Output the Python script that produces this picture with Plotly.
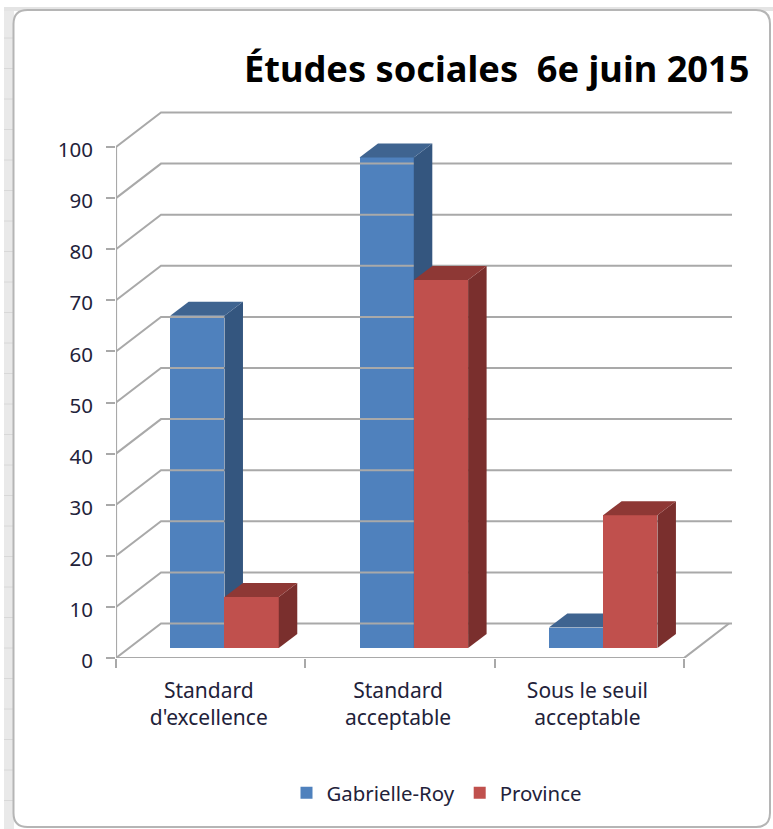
import plotly.graph_objects as go

# ---- data ----
categories = ["Standard<br>d'excellence", "Standard<br>acceptable", "Sous le seuil<br>acceptable"]
gabrielle_roy = [65, 96, 4]
province = [10, 72, 26]
y_ticks = list(range(0, 101, 10))
title_text = "Études sociales\u00a0\u00a06e juin 2015"

# ---- pixel geometry of the pseudo-3D chart ----
W, H = 773, 829
L, R, T, B = 116, 736, 108, 658
PX_X = 189.33            # pixels per category
PX_Y = 5.11              # pixels per value unit
XMAX = (R - L) / PX_X
YMAX = (B - T) / PX_Y
WALL_DX = 45 / PX_X      # depth of the walls
WALL_DY = 34.5 / PX_Y
WALL_END = (732 - L) / PX_X
BAR_DX = 18.5 / PX_X     # depth of the bars
BAR_DY = 14 / PX_Y
SHIFT_X = 13.8 / PX_X    # bars stand inside the floor
SHIFT_Y = 10 / PX_Y
BAR_W = 54.3 / PX_X
N = len(categories)

GRID = "#a9a9a9"
TXT = "#22223a"
FONT = "Noto Sans"

fig = go.Figure()

# walls and floor, on the base axes
def line(xs, ys, width=2, color=GRID):
    fig.add_trace(go.Scatter(x=xs, y=ys, mode="lines", showlegend=False, hoverinfo="skip",
                             line=dict(color=color, width=width), xaxis="x", yaxis="y", cliponaxis=False))

for v in y_ticks:
    line([0, WALL_DX, WALL_END], [v, v + WALL_DY, v + WALL_DY])
line([0, 0], [0, 100], 2.2)
line([0, N, N + WALL_DX], [0, 0, WALL_DY], 2.2)


def faces(vals, offs, side, top, xa, ya):
    for i, (v, o) in enumerate(zip(vals, offs)):
        x0 = i + 0.5 + SHIFT_X + o
        x1 = x0 + BAR_W
        b = SHIFT_Y
        h = b + v
        fig.add_trace(go.Scatter(x=[x1, x1 + BAR_DX, x1 + BAR_DX, x1, x1],
                                 y=[b, b + BAR_DY, h + BAR_DY, h, b],
                                 mode="lines", fill="toself", fillcolor=side, line=dict(width=0, color=side),
                                 showlegend=False, hoverinfo="skip", xaxis=xa, yaxis=ya))
        fig.add_trace(go.Scatter(x=[x0, x1, x1 + BAR_DX, x0 + BAR_DX, x0],
                                 y=[h, h, h + BAR_DY, h + BAR_DY, h],
                                 mode="lines", fill="toself", fillcolor=top, line=dict(width=0, color=top),
                                 showlegend=False, hoverinfo="skip", xaxis=xa, yaxis=ya))


def front(vals, off, name, color, xa, ya):
    fig.add_trace(go.Bar(x=[i + 0.5 + SHIFT_X + off for i in range(N)], y=vals,
                         base=[SHIFT_Y] * N, width=BAR_W, offset=0, name=name,
                         marker=dict(color=color, line=dict(width=0)), xaxis=xa, yaxis=ya))


# Gabrielle-Roy on the base axes
faces(gabrielle_roy, [-BAR_W] * N, "#34567f", "#3f6490", "x", "y")
front(gabrielle_roy, -BAR_W, "Gabrielle-Roy", "#4f81bd", "x", "y")
# Province on the overlaying axes so it hides the blue side faces
faces(province, [0] * N, "#7a2f2d", "#8e3835", "x2", "y2")
front(province, 0, "Province", "#c0504d", "x2", "y2")

# frame of the chart area (paper coordinates from pixels)
pw, ph = R - L, B - T
def px(x): return (x - L) / pw
def py(y): return 1 - (y - T) / ph

x0, x1, y0, y1 = px(13.5), px(770), py(10), py(827)
rx, ry = 14 / pw, 14 / ph
frame = (f"M {x0+rx} {y0} L {x1-rx} {y0} Q {x1} {y0} {x1} {y0-ry} L {x1} {y1+ry} Q {x1} {y1} {x1-rx} {y1} "
         f"L {x0+rx} {y1} Q {x0} {y1} {x0} {y1+ry} L {x0} {y0-ry} Q {x0} {y0} {x0+rx} {y0} Z")

# spreadsheet behind the chart: strip at the left, band at the top, faint row lines
shapes = [
    dict(type="rect", xref="paper", yref="paper", x0=px(4), x1=px(14), y0=py(829), y1=py(8),
         fillcolor="#e9e9e9", line=dict(width=0), layer="below"),
    dict(type="rect", xref="paper", yref="paper", x0=px(4), x1=px(773), y0=py(11), y1=py(7),
         fillcolor="#e4e4e4", line=dict(width=0), layer="below"),
]
for k in range(26):
    yy = 38 + 30.5 * k
    shapes.append(dict(type="line", xref="paper", yref="paper", x0=px(4), x1=px(13), y0=py(yy), y1=py(yy),
                       line=dict(color="#d8d8d8", width=1), layer="below"))
shapes.append(dict(type="path", path=frame, xref="paper", yref="paper", layer="below",
                   fillcolor="#ffffff", line=dict(color="#b5b5b5", width=2)))

fig.update_layout(
    width=W, height=H, autosize=False,
    margin=dict(l=L, r=W - R, t=T, b=H - B, pad=0),
    paper_bgcolor="#ffffff", plot_bgcolor="rgba(0,0,0,0)",
    font=dict(family=FONT, size=20, color=TXT),
    barmode="overlay", bargap=0,
    showlegend=True,
    legend=dict(orientation="h", x=px(437), xanchor="center", y=py(793), yanchor="middle",
                font=dict(size=20.4, color=TXT), bgcolor="rgba(0,0,0,0)", itemwidth=30, traceorder="normal"),
    xaxis=dict(range=[0, XMAX], showgrid=False, zeroline=False, showline=False,
               tickmode="array", tickvals=[i + 0.49 for i in range(N)], ticktext=categories,
               ticks="", ticklabelstandoff=18, tickfont=dict(size=21, color=TXT),
               minor=dict(tickmode="array", tickvals=list(range(N + 1)), ticks="outside", ticklen=9,
                          tickwidth=2, tickcolor=GRID, showgrid=False),
               fixedrange=True),
    yaxis=dict(range=[0, YMAX], showgrid=False, zeroline=False, showline=False,
               tickmode="array", tickvals=y_ticks, ticks="outside", ticklen=9, tickwidth=2, tickcolor=GRID,
               tickfont=dict(size=20.5, color=TXT), ticklabelstandoff=9, ticklabelshift=3, fixedrange=True),
    xaxis2=dict(range=[0, XMAX], overlaying="x", visible=False, fixedrange=True),
    yaxis2=dict(range=[0, YMAX], overlaying="y", visible=False, fixedrange=True),
    shapes=shapes,
    annotations=[dict(text=f"<b>{title_text}</b>", xref="paper", yref="paper", x=px(751), y=py(68),
                      xanchor="right", yanchor="middle", showarrow=False,
                      font=dict(family=FONT, size=36.2, color="#000000"))],
)

fig.write_html("out.html", config={"displayModeBar": False},
               post_script="document.body.style.margin='0';document.body.style.overflow='hidden';window.dispatchEvent(new Event('resize'));")
